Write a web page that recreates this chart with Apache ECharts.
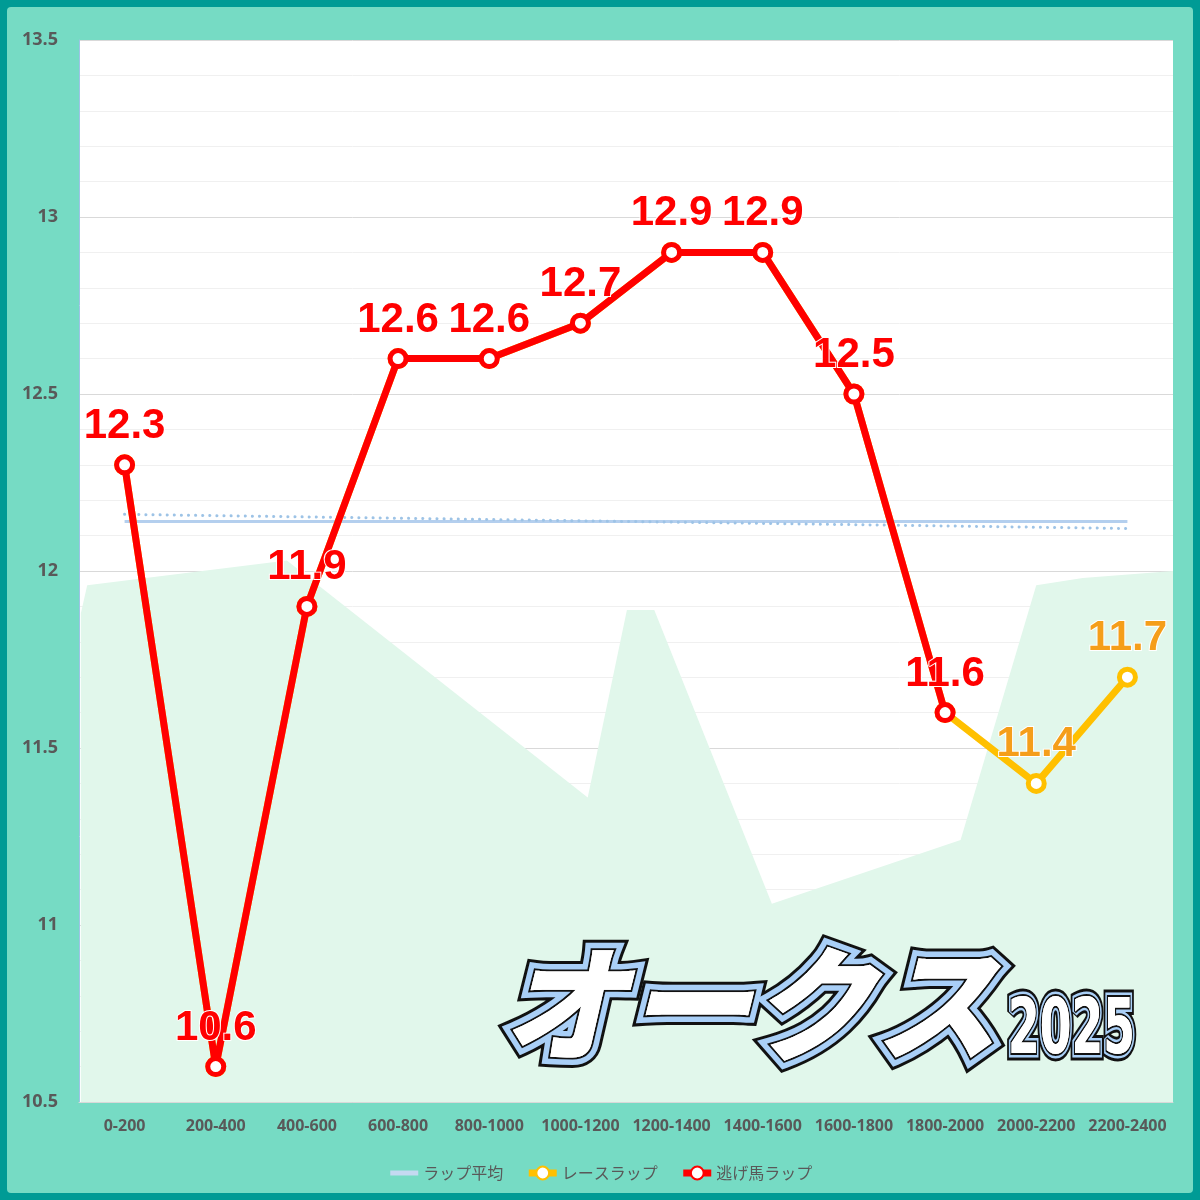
<!DOCTYPE html>
<html>
<head>
<meta charset="utf-8">
<script src="https://cdn.jsdelivr.net/npm/echarts@6/dist/echarts.min.js"></script>
<style>
html,body{margin:0;padding:0;background:#009B95;}
#chart{width:1200px;height:1200px;}
</style>
</head>
<body>
<div id="chart"></div>
<script>
const categories = ['0-200','200-400','400-600','600-800','800-1000','1000-1200','1200-1400','1400-1600','1600-1800','1800-2000','2000-2200','2200-2400'];
const raceLap = [12.3, 10.6, 11.9, 12.6, 12.6, 12.7, 12.9, 12.9, 12.5, 11.6, 11.4, 11.7];
const leaderLap = [12.3, 10.6, 11.9, 12.6, 12.6, 12.7, 12.9, 12.9, 12.5, 11.6, null, null];
const lapAverage = [12.14, 12.14, 12.14, 12.14, 12.14, 12.14, 12.14, 12.14, 12.14, 12.14, 12.14, 12.14];
const trendLine = [12.16, null, null, null, null, null, null, null, null, null, null, 12.12];
const areaX = [0.02, 0.09, 2.28, 5.58, 6.01, 6.31, 7.60, 9.67, 10.50, 11.01, 12.0];
const areaY = [11.88, 11.96, 12.03, 11.36, 11.89, 11.89, 11.06, 11.24, 11.96, 11.98, 12.0];
const yTicks = { min: 10.5, max: 13.5, interval: 0.5 };
const titleMain = 'オークス';
const titleYear = '2025';

const chart = echarts.init(document.getElementById('chart'));

const labelFont = '"Liberation Sans", Arial, sans-serif';
const areaData = areaX.map((x, i) => [x, areaY[i]]);
const raceData = raceLap.map((v, i) => ({ value: v, label: { show: i >= 10 } }));

function titleLayers(text, x, y, size, family, weight, style, sx, band) {
  const base = { text: text, fontStyle: style, fontWeight: weight, fontSize: size, fontFamily: family, verticalAlign: 'middle', align: 'left', lineJoin: 'round' };
  return [
    { type: 'text', x: x, y: y, scaleX: sx, z: 20, silent: true, style: Object.assign({}, base, { fill: '#111', stroke: '#111', lineWidth: band + 6 }) },
    { type: 'text', x: x, y: y, scaleX: sx, z: 21, silent: true, style: Object.assign({}, base, { fill: '#A9CFF7', stroke: '#A9CFF7', lineWidth: band }) },
    { type: 'text', x: x, y: y, scaleX: sx, z: 22, silent: true, style: Object.assign({}, base, { fill: '#fff', stroke: '#111', lineWidth: 4 }) },
    { type: 'text', x: x, y: y, scaleX: sx, z: 23, silent: true, style: Object.assign({}, base, { fill: '#fff' }) }
  ];
}

const option = {
  backgroundColor: '#009B95',
  animation: false,
  graphic: [
    { type: 'rect', left: 7, top: 7, z: -10, silent: true, shape: { width: 1186, height: 1186, r: 4 }, style: { fill: '#76DBC4' } }
  ].concat(
    titleLayers(titleMain, 502, 1004, 124, 'Noto Sans CJK JP', 800, 'italic', 1.0, 15),
    titleLayers(titleYear, 1008, 1033, 76, 'DejaVu Sans', 'bold', 'normal', 0.6, 9)
  ),
  grid: { left: 79, right: 27, top: 40, bottom: 98, show: true, backgroundColor: '#ffffff', borderWidth: 0 },
  legend: {
    bottom: 14,
    left: 'center',
    itemWidth: 28,
    itemHeight: 16,
    itemGap: 22,
    textStyle: { color: '#595959', fontSize: 16, fontFamily: '"Noto Sans CJK JP"' },
    data: [
      { name: 'ラップ平均', itemStyle: { opacity: 0 }, lineStyle: { width: 5, color: '#C5D9F1' } },
      { name: 'レースラップ', lineStyle: { width: 7 } },
      { name: '逃げ馬ラップ', lineStyle: { width: 7 } }
    ]
  },
  xAxis: [
    {
      type: 'category',
      data: categories,
      boundaryGap: true,
      axisTick: { show: false },
      axisLine: { show: true, lineStyle: { color: '#D9D9D9' } },
      axisLabel: { color: '#595959', fontSize: 16, fontWeight: 'bold', margin: 16, fontFamily: '"Open Sans", sans-serif', interval: 0 },
      splitLine: { show: false }
    },
    { type: 'value', min: 0, max: 12, show: false }
  ],
  yAxis: {
    type: 'value',
    min: yTicks.min,
    max: yTicks.max,
    interval: yTicks.interval,
    axisLine: { show: true, lineStyle: { color: '#9DC3E6', width: 1 } },
    axisTick: { show: false },
    axisLabel: { color: '#595959', fontSize: 18, fontWeight: 'bold', margin: 21, fontFamily: '"Open Sans", sans-serif', formatter: v => String(v) },
    splitLine: { show: true, lineStyle: { color: '#D9D9D9', width: 1 } },
    minorTick: { show: false, splitNumber: 5 },
    minorSplitLine: { show: true, lineStyle: { color: '#F0F0F0', width: 1 } }
  },
  series: [
    {
      type: 'line',
      name: 'background',
      xAxisIndex: 1,
      data: areaData,
      symbol: 'none',
      lineStyle: { width: 0 },
      areaStyle: { color: '#E1F7EB', opacity: 1, origin: 'start' },
      silent: true,
      z: 1
    },
    {
      type: 'line',
      name: 'ラップ平均',
      data: lapAverage,
      symbol: 'none',
      lineStyle: { color: '#B4CFEE', width: 3 },
      itemStyle: { color: '#B4CFEE' },
      z: 2
    },
    {
      type: 'line',
      name: 'trend',
      data: trendLine,
      connectNulls: true,
      symbol: 'none',
      lineStyle: { color: '#9DC3E6', width: 3, type: [0.1, 7], cap: 'round' },
      z: 2
    },
    {
      type: 'line',
      name: 'レースラップ',
      data: raceData,
      symbol: 'circle',
      symbolSize: 16,
      showAllSymbol: true,
      lineStyle: { color: '#FFC000', width: 7 },
      itemStyle: { color: '#ffffff', borderColor: '#FFC000', borderWidth: 5 },
      label: {
        position: 'top', distance: 7, color: '#F59E1A', fontSize: 42, fontWeight: 'bold',
        fontFamily: labelFont, textBorderColor: '#ffffff', textBorderWidth: 2
      },
      z: 3
    },
    {
      type: 'line',
      name: '逃げ馬ラップ',
      data: leaderLap,
      symbol: 'circle',
      symbolSize: 16,
      showAllSymbol: true,
      lineStyle: { color: '#FF0000', width: 7 },
      itemStyle: { color: '#ffffff', borderColor: '#FF0000', borderWidth: 5 },
      label: {
        show: true, position: 'top', distance: 7, color: '#FF0000', fontSize: 42, fontWeight: 'bold',
        fontFamily: labelFont, textBorderColor: '#ffffff', textBorderWidth: 2
      },
      z: 4
    }
  ]
};

chart.setOption(option);
</script>
</body>
</html>
